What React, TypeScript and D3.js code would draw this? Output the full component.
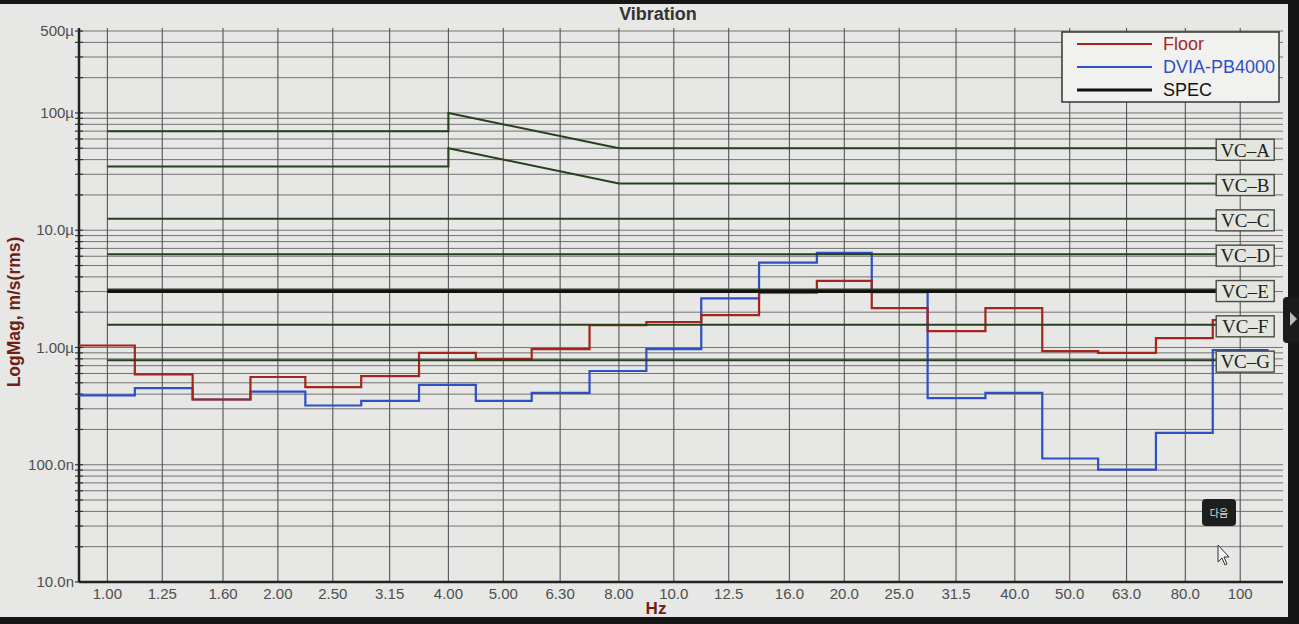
import { useRef, useEffect } from 'react';
import * as d3 from 'd3';

const WIDTH = 1299;
const HEIGHT = 624;

// third-octave band centres (Hz) and their axis labels
const bands = [1, 1.25, 1.6, 2, 2.5, 3.15, 4, 5, 6.3, 8, 10, 12.5, 16, 20, 25, 31.5, 40, 50, 63, 80, 100];
const bandLabels = ['1.00', '1.25', '1.60', '2.00', '2.50', '3.15', '4.00', '5.00', '6.30', '8.00', '10.0', '12.5', '16.0', '20.0', '25.0', '31.5', '40.0', '50.0', '63.0', '80.0', '100'];

// velocity per band, µm/s rms
const floorVel = [1.04, 0.59, 0.36, 0.56, 0.46, 0.57, 0.9, 0.8, 0.97, 1.55, 1.65, 1.89, 2.93, 3.7, 2.17, 1.38, 2.17, 0.93, 0.9, 1.2, 1.71];
const dviaVel = [0.39, 0.45, 0.36, 0.42, 0.32, 0.35, 0.48, 0.35, 0.41, 0.63, 0.97, 2.62, 5.3, 6.4, 2.97, 0.37, 0.41, 0.113, 0.091, 0.187, 0.95];

// vibration criteria curves, [Hz, µm/s]
const vcA: [number, number][] = [[1, 70], [4, 70], [4, 100], [8, 50], [100, 50]];
const vcB: [number, number][] = [[1, 35], [4, 35], [4, 50], [8, 25], [100, 25]];
const vcC: [number, number][] = [[1, 12.5], [100, 12.5]];
const vcD: [number, number][] = [[1, 6.25], [100, 6.25]];
const vcE: [number, number][] = [[1, 3.12], [100, 3.12]];
const vcF: [number, number][] = [[1, 1.56], [100, 1.56]];
const vcG: [number, number][] = [[1, 0.78], [100, 0.78]];
const vcNames = ['VC–A', 'VC–B', 'VC–C', 'VC–D', 'VC–E', 'VC–F', 'VC–G'];
const spec: [number, number][] = [[1, 3.0], [100, 3.0]];

const yTickValues = [5e-4, 1e-4, 1e-5, 1e-6, 1e-7, 1e-8];
const yTickLabels = ['500µ', '100µ', '10.0µ', '1.00µ', '100.0n', '10.0n'];

const legendNames = ['Floor', 'DVIA-PB4000', 'SPEC'];

const RED = '#a3261d';
const BLUE = '#2f4fc4';
const GREEN = '#26401c';
const AXIS_RED = '#6e2017';
const SANS = '"Liberation Sans", Arial, sans-serif';
const SERIF = '"Liberation Serif", "DejaVu Serif", serif';

const PLOT = { left: 79, right: 1283, top: 31, bottom: 582 };

export default function App() {
  const svgRef = useRef<SVGSVGElement>(null);

  useEffect(() => {
    const svg = d3.select(svgRef.current);
    svg.selectAll('*').remove();

    const x = d3.scaleLog().domain([0.891, 119]).range([PLOT.left, PLOT.right]);
    const y = d3.scaleLog().domain([1e-8, 5e-4]).range([PLOT.bottom, PLOT.top]);

    // screen frame + panel
    svg.append('rect').attr('width', WIDTH).attr('height', HEIGHT).attr('fill', '#161616');
    svg.append('rect').attr('x', 0).attr('y', 4).attr('width', 1288).attr('height', 613).attr('fill', '#e7e7e5');

    // grid
    const grid = svg.append('g');
    const hLines: number[] = [];
    for (let dec = 1e-8; dec <= 1e-4 * 1.01; dec *= 10) {
      for (let k = 1; k <= 9; k++) {
        const v = k * dec;
        if (v <= 5e-4 * 1.001) hLines.push(v);
      }
    }
    hLines.forEach((v) => {
      grid
        .append('line')
        .attr('x1', PLOT.left)
        .attr('x2', PLOT.right)
        .attr('y1', y(v))
        .attr('y2', y(v))
        .attr('stroke', '#727272')
        .attr('stroke-width', 1);
      grid
        .append('line')
        .attr('x1', PLOT.left - 4)
        .attr('x2', PLOT.left + 4)
        .attr('y1', y(v))
        .attr('y2', y(v))
        .attr('stroke', '#333')
        .attr('stroke-width', 1.2);
    });
    bands.forEach((f) => {
      grid
        .append('line')
        .attr('x1', x(f))
        .attr('x2', x(f))
        .attr('y1', PLOT.top - 3)
        .attr('y2', PLOT.bottom)
        .attr('stroke', '#555')
        .attr('stroke-width', 1.1);
    });

    // axes
    svg
      .append('line')
      .attr('x1', PLOT.left)
      .attr('x2', PLOT.left)
      .attr('y1', PLOT.top - 3)
      .attr('y2', PLOT.bottom)
      .attr('stroke', '#222')
      .attr('stroke-width', 2.5);
    svg
      .append('line')
      .attr('x1', PLOT.left)
      .attr('x2', PLOT.right)
      .attr('y1', PLOT.bottom)
      .attr('y2', PLOT.bottom)
      .attr('stroke', '#222')
      .attr('stroke-width', 2.5);

    yTickValues.forEach((v, i) => {
      svg
        .append('text')
        .attr('x', PLOT.left - 5)
        .attr('y', y(v))
        .attr('dy', '0.35em')
        .attr('text-anchor', 'end')
        .attr('font-family', SANS)
        .attr('font-size', 15)
        .attr('fill', '#4e4e4e')
        .text(yTickLabels[i]);
    });
    bands.forEach((f, i) => {
      svg
        .append('text')
        .attr('x', x(f))
        .attr('y', PLOT.bottom + 17)
        .attr('text-anchor', 'middle')
        .attr('font-family', SANS)
        .attr('font-size', 15)
        .attr('fill', '#4e4e4e')
        .text(bandLabels[i]);
    });

    // titles
    svg
      .append('text')
      .attr('x', 658)
      .attr('y', 20)
      .attr('text-anchor', 'middle')
      .attr('font-family', SANS)
      .attr('font-weight', 'bold')
      .attr('font-size', 18)
      .attr('fill', '#333')
      .text('Vibration');
    svg
      .append('text')
      .attr('transform', 'translate(20,312) rotate(-90)')
      .attr('text-anchor', 'middle')
      .attr('font-family', SANS)
      .attr('font-weight', 'bold')
      .attr('font-size', 17.5)
      .attr('fill', AXIS_RED)
      .text('LogMag, m/s(rms)');
    svg
      .append('text')
      .attr('x', 656)
      .attr('y', 614)
      .attr('text-anchor', 'middle')
      .attr('font-family', SANS)
      .attr('font-weight', 'bold')
      .attr('font-size', 17)
      .attr('fill', AXIS_RED)
      .text('Hz');

    // band edges for step curves
    const last = bands.length - 1;
    const edge = (i: number) => {
      const lo = i === 0 ? bands[0] / Math.pow(10, 0.05) : Math.sqrt(bands[i - 1] * bands[i]);
      const hi = i === last ? bands[last] * Math.pow(10, 0.05) : Math.sqrt(bands[i] * bands[i + 1]);
      return [lo, hi];
    };
    const stepPts = (vals: number[]): [number, number][] =>
      vals.flatMap((v, i) => {
        const [lo, hi] = edge(i);
        return [
          [lo, v],
          [hi, v],
        ] as [number, number][];
      });

    const line = d3
      .line<[number, number]>()
      .x((d) => x(d[0]))
      .y((d) => y(d[1] * 1e-6));

    svg
      .append('path')
      .attr('d', line(stepPts(dviaVel)))
      .attr('fill', 'none')
      .attr('stroke', BLUE)
      .attr('stroke-width', 2.2);
    svg
      .append('path')
      .attr('d', line(stepPts(floorVel)))
      .attr('fill', 'none')
      .attr('stroke', RED)
      .attr('stroke-width', 2.2);

    // criteria
    const vcCurves = [vcA, vcB, vcC, vcD, vcE, vcF, vcG];
    vcCurves.forEach((c) => {
      svg
        .append('path')
        .attr('d', line(c))
        .attr('fill', 'none')
        .attr('stroke', GREEN)
        .attr('stroke-width', 2);
    });
    svg
      .append('path')
      .attr('d', line(spec))
      .attr('fill', 'none')
      .attr('stroke', '#111')
      .attr('stroke-width', 3);

    vcCurves.forEach((c, i) => {
      const end = c[c.length - 1];
      const bx = x(end[0]) - 24;
      const by = y(end[1] * 1e-6);
      svg
        .append('rect')
        .attr('x', bx)
        .attr('y', by - 9)
        .attr('width', 58)
        .attr('height', 21)
        .attr('fill', '#e3e5df')
        .attr('stroke', '#4a4a44')
        .attr('stroke-width', 1.4);
      svg
        .append('text')
        .attr('x', bx + 29)
        .attr('y', by + 1.5)
        .attr('dy', '0.36em')
        .attr('text-anchor', 'middle')
        .attr('font-family', SERIF)
        .attr('font-size', 19)
        .attr('fill', '#222')
        .text(vcNames[i]);
    });

    // legend
    const lg = svg.append('g').attr('transform', 'translate(1062,32)');
    lg.append('rect')
      .attr('width', 217)
      .attr('height', 70)
      .attr('fill', '#f1f1ef')
      .attr('stroke', '#333')
      .attr('stroke-width', 1.5);
    const legendColors = [RED, BLUE, '#111'];
    legendNames.forEach((name, i) => {
      const ly = 12 + i * 23;
      lg.append('line')
        .attr('x1', 15)
        .attr('x2', 90)
        .attr('y1', ly)
        .attr('y2', ly)
        .attr('stroke', legendColors[i])
        .attr('stroke-width', i === 2 ? 2.8 : 2.2);
      lg.append('text')
        .attr('x', 101)
        .attr('y', ly)
        .attr('dy', '0.36em')
        .attr('font-family', SANS)
        .attr('font-size', 18)
        .attr('fill', legendColors[i])
        .text(name);
    });

    // screen overlays: side tab, tooltip button, cursor
    svg.append('rect').attr('x', 1283).attr('y', 297).attr('width', 20).attr('height', 46).attr('rx', 4).attr('fill', '#1b1b1b');
    svg.append('path').attr('d', 'M1290,312 L1290,326 L1297,319 Z').attr('fill', '#bbb');
    svg.append('rect').attr('x', 1202).attr('y', 499).attr('width', 34).attr('height', 27).attr('rx', 4).attr('fill', '#1e1e1e');
    svg
      .append('text')
      .attr('x', 1219)
      .attr('y', 513)
      .attr('dy', '0.35em')
      .attr('text-anchor', 'middle')
      .attr('font-family', '"Noto Sans CJK KR", sans-serif')
      .attr('font-size', 10)
      .attr('fill', '#ddd')
      .text('다음');
    svg
      .append('path')
      .attr('d', 'M1218,545 L1218,562 L1222,558 L1225,565 L1227,564 L1224,557 L1229,557 Z')
      .attr('fill', '#f4f4f4')
      .attr('stroke', '#333')
      .attr('stroke-width', 1);
  }, []);

  return (
    <svg
      ref={svgRef}
      width={WIDTH}
      height={HEIGHT}
      style={{ position: 'absolute', left: 0, top: 0, display: 'block' }}
    />
  );
}
